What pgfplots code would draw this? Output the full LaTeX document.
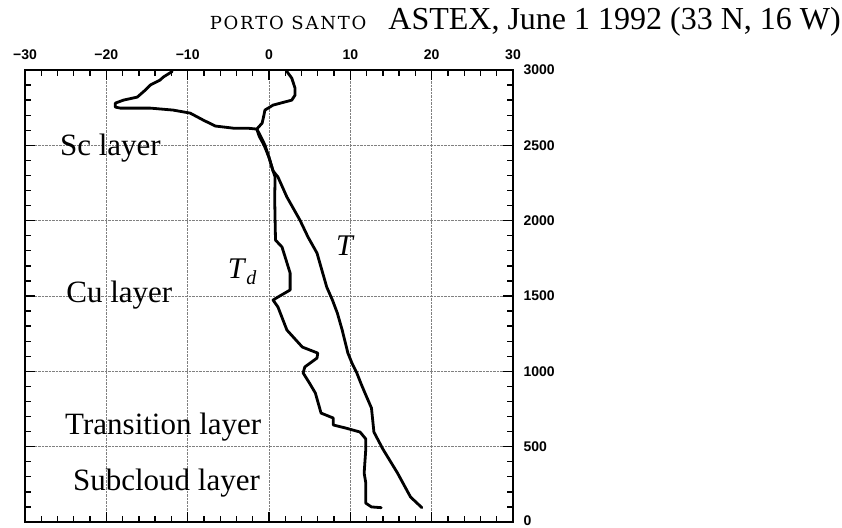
\documentclass[border=0pt]{standalone}
\usepackage{fontspec}
\setmainfont{Liberation Serif}
\newfontfamily\tickfont{Liberation Sans}
\newfontfamily\capfont{DejaVu Serif}[LetterSpace=10.0]
\usepackage{pgfplots}
\pgfplotsset{compat=1.18}

% dew point T_d (C) against height (m)
\pgfplotstableread{
t h
-11.9 2990
-13.0 2953
-13.4 2933
-14.6 2900
-15.2 2867
-16.2 2820
-16.8 2813
-17.9 2800
-18.9 2780
-18.9 2754
-18.3 2747
-14.6 2747
-11.8 2734
-9.7 2714
-8.1 2668
-6.6 2628
-4.4 2614
-2.7 2614
-1.5 2608
-1.2 2560
-0.6 2500
0.0 2420
0.5 2330
0.75 2290
0.7 2150
0.75 2000
0.8 1871
1.6 1825
2.6 1652
2.6 1540
1.1 1493
0.5 1473
1.1 1427
2.2 1274
4.1 1161
6.0 1121
5.9 1088
4.4 1029
4.2 989
5.0 920
5.7 856
6.4 723
7.9 690
7.9 644
9.4 624
11.2 597
11.9 551
11.9 484
11.7 325
11.9 259
11.9 125
12.6 100
13.8 95
}\dewpoint

% temperature T (C) against height (m)
\pgfplotstableread{
t h
2.2 2990
2.8 2946
3.2 2880
3.2 2833
2.8 2800
0.5 2767
-0.5 2734
-0.7 2681
-0.85 2647
-1.5 2608
-1.1 2568
-0.5 2502
0.0 2420
0.5 2330
1.1 2290
2.2 2157
3.8 2004
4.8 1891
5.9 1785
6.5 1672
7.1 1559
7.8 1473
8.4 1387
9.0 1274
9.7 1121
10.2 1055
10.8 989
11.3 920
11.8 856
12.6 756
12.9 597
14.0 484
15.8 325
17.4 166
18.8 95
}\temperature

\begin{document}
\begin{tikzpicture}
\useasboundingbox (0,0) rectangle (842pt,527pt);
\node[anchor=base east, inner sep=0pt] at (841pt,497pt)
  {{\capfont\fontsize{18}{18}\selectfont PORTO SANTO}\hspace{22pt}{\fontsize{32}{32}\selectfont ASTEX, June 1 1992 (33 N, 16 W)}};
\begin{axis}[
    at={(25pt,5pt)}, anchor=south west,
    width=488pt, height=452pt, scale only axis,
    xmin=-30, xmax=30, ymin=0, ymax=3000,
    xtick={-30,-20,...,30},
    xticklabels={−30,−20,−10,0,10,20,30},
    ytick={0,500,...,3000},
    yticklabels={\raisebox{3pt}{0},500,1000,1500,2000,2500,3000},
    minor x tick num=4, minor y tick num=4,
    xticklabel pos=upper, yticklabel pos=right,
    tick align=inside,
    major tick length=10pt, minor tick length=6pt,
    axis line style={line width=1.8pt},
    every tick/.style={black, line width=1.3pt},
    grid=major,
    major grid style={densely dotted, gray, line width=0.6pt},
    ticklabel style={font=\tickfont\bfseries\fontsize{14}{14}\selectfont},
    xticklabel style={yshift=7pt},
    yticklabel style={xshift=7pt},
    clip=false,
]
\addplot[black, line width=2.8pt, line join=round, line cap=round] table[x=t, y=h] {\dewpoint};
\addplot[black, line width=2.8pt, line join=round, line cap=round] table[x=t, y=h] {\temperature};

\node[font=\fontsize{31}{31}\selectfont] at (axis cs:-19.5,2480) {Sc layer};
\node[font=\fontsize{31}{31}\selectfont] at (axis cs:-18.4,1506) {Cu layer};
\node[font=\fontsize{31}{31}\selectfont] at (axis cs:-13.0,630) {Transition layer};
\node[font=\fontsize{31}{31}\selectfont] at (axis cs:-12.6,259) {Subcloud layer};
\node[font=\fontsize{30}{30}\selectfont] at (axis cs:-3.3,1659) {\textit{T}\raisebox{-6pt}{\fontsize{20}{20}\selectfont\textit{d}}};
\node[font=\fontsize{30}{30}\selectfont] at (axis cs:9.4,1831) {\textit{T}};
\end{axis}
\end{tikzpicture}
\end{document}
